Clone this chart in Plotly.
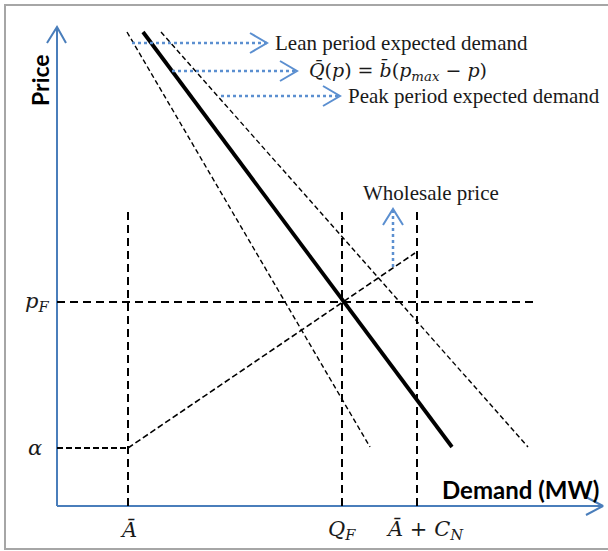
import plotly.graph_objects as go

# Key quantities of the diagram (demand on x, price on y; arbitrary units)
A_bar = 71            # must-run / baseline availability
Q_F = 285             # forward quantity
A_plus_CN = 360       # availability plus new capacity
p_F = 204             # forward price
alpha = 58            # price floor of the wholesale curve
guide_top = 298       # top of the vertical guide lines
pF_line_end = 479     # right end of the p_F guide

# Wholesale price curve: flat at alpha up to A_bar, then rising through (Q_F, p_F)
wholesale_q = [0, A_bar, Q_F, 358]
wholesale_p = [alpha, alpha, p_F, 253]

# Demand curves Q(p) = b(p_max - p), given at two prices
demand_prices = [474, 59]
lean_demand = [70, 313]
mean_demand = [86, 395]
peak_demand = [104, 471]

# Callout arrows: (start x, end x, y) for the horizontal ones
callouts = [
    (75, 210, 463, "Lean period expected demand"),
    (115, 240, 435, "<i>Q̄</i>(<i>p</i>) = <i>b̄</i>(<i>p</i><sub><i>max</i></sub> − <i>p</i>)"),
    (164, 283, 410, "Peak period expected demand"),
]
wholesale_arrow_x = 336
wholesale_arrow_y = [239, 297]

AXIS_BLUE = "#4A7EBB"
CALLOUT_BLUE = "#5B8FD0"
SERIF = "Liberation Serif"
MATH = "DejaVu Serif"

fig = go.Figure()


def line(x, y, color="black", width=2, dash=None):
    fig.add_trace(go.Scatter(
        x=x, y=y, mode="lines", hoverinfo="skip", showlegend=False,
        line=dict(color=color, width=width, dash=dash),
    ))


# Axes with open chevron arrowheads
line([0, 0], [0, 479], AXIS_BLUE, 2)
line([-10, 0, 9], [463, 479, 463], AXIS_BLUE, 2)
line([0, 546], [0, 0], AXIS_BLUE, 2)
line([529, 546, 529], [9, 0, -9], AXIS_BLUE, 2)

# Guide lines
guide_dash = "8px,5px"
for q in (A_bar, Q_F, A_plus_CN):
    line([q, q], [0, guide_top], "black", 2, guide_dash)
line([0, pF_line_end], [p_F, p_F], "black", 2, guide_dash)

# Wholesale price curve
line(wholesale_q[:2], wholesale_p[:2], "black", 1.8, "6px,3px")
line(wholesale_q[1:], wholesale_p[1:], "black", 1.6, "6px,3px")

# Demand curves
line(lean_demand, demand_prices, "black", 1.4, "5px,3px")
line(peak_demand, demand_prices, "black", 1.4, "5px,3px")
line(mean_demand, demand_prices, "black", 3.8)

# Callouts
for x0, x1, y, label in callouts:
    line([x0, x1], [y, y], CALLOUT_BLUE, 2.5, "dot")
    line([x1 - 17, x1, x1 - 17], [y + 10, y, y - 10], CALLOUT_BLUE, 2)
    is_math = label.startswith("<i>")
    fig.add_annotation(
        x=x1 + (10 if is_math else 6), y=y, text=label, showarrow=False,
        xanchor="left", yanchor="middle",
        font=dict(family=MATH if is_math else SERIF, size=19 if is_math else 21, color="#1a1a1a"),
    )

wx = wholesale_arrow_x
line([wx, wx], wholesale_arrow_y, CALLOUT_BLUE, 2.5, "dot")
top = wholesale_arrow_y[1]
line([wx - 10, wx, wx + 10], [top - 16, top, top - 16], CALLOUT_BLUE, 2)
fig.add_annotation(x=374, y=313, text="Wholesale price", showarrow=False,
                   font=dict(family=SERIF, size=21, color="#1a1a1a"))

# Axis titles
fig.add_annotation(x=-17, y=426, text="<b>Price</b>", textangle=-90, showarrow=False,
                   font=dict(family="Lato", size=23, color="black"))
fig.add_annotation(x=463, y=17, text="<b>Demand (MW)</b>", showarrow=False,
                   font=dict(family="Lato", size=24, color="black"))

# Tick labels
tick_font = dict(family=MATH, size=21, color="#1a1a1a")
fig.add_annotation(x=-20, y=p_F, text="<i>p</i><sub><i>F</i></sub>", showarrow=False, font=tick_font)
fig.add_annotation(x=-22, y=alpha, text="<i>α</i>", showarrow=False, font=tick_font)
fig.add_annotation(x=A_bar, y=-24, text="<i>Ā</i>", showarrow=False, font=tick_font)
fig.add_annotation(x=Q_F, y=-24, text="<i>Q</i><sub><i>F</i></sub>", showarrow=False, font=tick_font)
fig.add_annotation(x=368, y=-24, text="<i>Ā</i> + <i>C</i><sub><i>N</i></sub>", showarrow=False, font=tick_font)

# Frame
fig.add_shape(type="rect", xref="paper", yref="paper",
              x0=5 / 608, x1=1.02, y0=2 / 551, y1=546 / 551,
              line=dict(color="#a6a6a6", width=2))

fig.update_layout(
    width=608, height=551,
    margin=dict(l=0, r=0, t=0, b=0),
    paper_bgcolor="white", plot_bgcolor="white",
    xaxis=dict(range=[-57, 551], visible=False, fixedrange=True),
    yaxis=dict(range=[-45, 506], visible=False, fixedrange=True),
)

fig.write_html("out.html")
